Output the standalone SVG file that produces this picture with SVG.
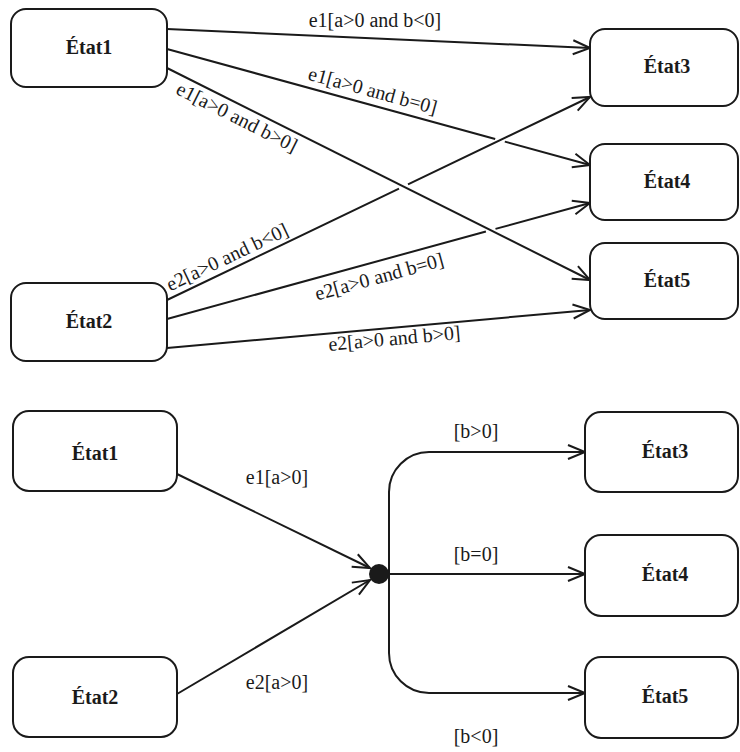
<svg xmlns="http://www.w3.org/2000/svg" width="740" height="752" viewBox="0 0 740 752">
<style>
.box{fill:#fff;stroke:#1a1a1a;stroke-width:2}
.name{font-family:'Liberation Serif','Times New Roman',Times,Tinos,'DejaVu Serif',serif;font-weight:bold;font-size:20px;fill:#1a1a1a;text-anchor:middle}
.lbl{font-family:'Liberation Serif','Times New Roman',Times,Tinos,'DejaVu Serif',serif;font-size:20px;fill:#1a1a1a;text-anchor:middle}
.edge{fill:none;stroke:#1a1a1a;stroke-width:2}
</style>
<defs>
<marker id="arr" markerUnits="userSpaceOnUse" markerWidth="20" markerHeight="16" refX="18" refY="8" orient="auto" overflow="visible">
<path d="M1,1 L18,8 L1,15" fill="none" stroke="#1a1a1a" stroke-width="2"/>
</marker>
</defs>
<rect width="740" height="752" fill="#fff"/>

<g id="connectors">
<path class="edge" d="M167,29 L590,48" marker-end="url(#arr)"/>
<path class="edge" d="M167,49 L495.2,139 M504.8,141.6 L590,165" marker-end="url(#arr)"/>
<path class="edge" d="M167,68 L590,280" marker-end="url(#arr)"/>
<path class="edge" d="M167,300 L399,188.7 M408,184.3 L590,97" marker-end="url(#arr)"/>
<path class="edge" d="M167,319 L485.9,231.5 M495.5,228.9 L590,203" marker-end="url(#arr)"/>
<path class="edge" d="M167,348 L590,310" marker-end="url(#arr)"/>
<text class="lbl" x="375" y="27" font-family="Liberation Serif, serif">e1[a&gt;0 and b&lt;0]</text>
<text class="lbl" x="371" y="97" transform="rotate(15.3 371 97)">e1[a&gt;0 and b=0]</text>
<text class="lbl" x="234" y="123" transform="rotate(26.6 234 123)">e1[a&gt;0 and b&gt;0]</text>
<text class="lbl" x="230" y="263" transform="rotate(-25.4 230 263)">e2[a&gt;0 and b&lt;0]</text>
<text class="lbl" x="381" y="283" transform="rotate(-15.3 381 283)">e2[a&gt;0 and b=0]</text>
<text class="lbl" x="395" y="345" transform="rotate(-5.1 395 345)">e2[a&gt;0 and b&gt;0]</text>

<path class="edge" d="M177,474 L370,568" marker-end="url(#arr)"/>
<path class="edge" d="M177,694 L370,580" marker-end="url(#arr)"/>
<path class="edge" d="M389,574 L389,492 A40,40 0 0 1 429,452 L585,452" marker-end="url(#arr)"/>
<path class="edge" d="M379,574 L585,574" marker-end="url(#arr)"/>
<path class="edge" d="M389,574 L389,653 A40,40 0 0 0 429,693 L585,693" marker-end="url(#arr)"/>
<text class="lbl" x="277" y="484">e1[a&gt;0]</text>
<text class="lbl" x="277" y="689">e2[a&gt;0]</text>
<text class="lbl" x="476" y="438">[b&gt;0]</text>
<text class="lbl" x="476" y="561">[b=0]</text>
<text class="lbl" x="476" y="743">[b&lt;0]</text>
</g>

<g id="junction"><circle cx="379" cy="574" r="10" fill="#1a1a1a"/></g>

<g id="t-etat1"><rect class="box" x="11" y="9" width="156" height="78" rx="15"/><text class="name" x="89" y="54">État1</text></g>
<g id="t-etat2"><rect class="box" x="11" y="283" width="156" height="78" rx="15"/><text class="name" x="89" y="328">État2</text></g>
<g id="t-etat3"><rect class="box" x="590" y="29" width="148" height="77" rx="15"/><text class="name" x="667" y="73">État3</text></g>
<g id="t-etat4"><rect class="box" x="590" y="144" width="148" height="76" rx="15"/><text class="name" x="667" y="188">État4</text></g>
<g id="t-etat5"><rect class="box" x="590" y="243" width="148" height="76" rx="15"/><text class="name" x="667" y="287">État5</text></g>

<g id="b-etat1"><rect class="box" x="13" y="411" width="164" height="80" rx="16"/><text class="name" x="95" y="460">État1</text></g>
<g id="b-etat2"><rect class="box" x="13" y="657" width="164" height="80" rx="16"/><text class="name" x="95" y="704">État2</text></g>
<g id="b-etat3"><rect class="box" x="585" y="412" width="153" height="80" rx="16"/><text class="name" x="665" y="458">État3</text></g>
<g id="b-etat4"><rect class="box" x="585" y="535" width="153" height="81" rx="16"/><text class="name" x="665" y="581">État4</text></g>
<g id="b-etat5"><rect class="box" x="585" y="657" width="153" height="81" rx="16"/><text class="name" x="665" y="703">État5</text></g>
</svg>
